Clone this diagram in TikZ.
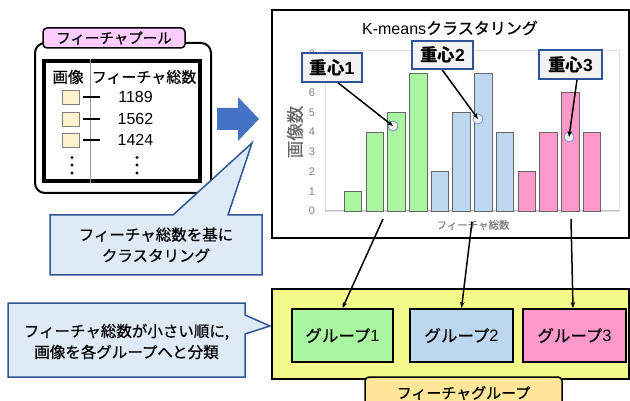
\documentclass[tikz,border=0pt]{standalone}
\usepackage{fontspec}
\setmainfont{Noto Sans CJK JP}[UprightFeatures={FakeBold=0.6}]
\setsansfont{Noto Sans CJK JP}
\newfontfamily\lat{Liberation Sans}
\usetikzlibrary{arrows.meta}
\definecolor{poolpink}{HTML}{FFCCFF}
\definecolor{imgyellow}{HTML}{FFF2CC}
\definecolor{arrowblue}{HTML}{4472C4}
\definecolor{callfill}{HTML}{DEEBF7}
\definecolor{calldraw}{HTML}{2F5597}
\definecolor{gG}{HTML}{AAF5A0}
\definecolor{gB}{HTML}{BDD7EE}
\definecolor{gP}{HTML}{FF99CC}
\definecolor{grpyellow}{HTML}{F4F98C}
\definecolor{lblorange}{HTML}{FFE699}
\definecolor{cboxfill}{HTML}{F2F2F2}
\definecolor{axisgray}{HTML}{7F7F7F}
\definecolor{mkblue}{HTML}{6F8FCC}
\tikzset{
  fs/.style={font=\fontsize{#1}{#1}\selectfont},
  bar/.style={draw=black!60, line width=0.8pt},
  grpbox/.style={draw=black, line width=2pt, minimum height=53pt, inner sep=0pt, fs=16.5},
  cbox/.style={draw=calldraw, fill=cboxfill, line width=2pt, minimum height=28.5pt, inner sep=0pt, font=\fontsize{17.5}{20}\selectfont\bfseries},
  cmark/.style={circle, draw=mkblue, fill=cboxfill, line width=0.8pt, minimum size=10pt, inner sep=0pt},
  ptr/.style={-{Stealth[length=6pt,width=4.5pt]}, line width=1.5pt, black},
  callout/.style={draw=calldraw, fill=callfill, line width=1.5pt, line join=miter},
  ticklbl/.style={text=axisgray, font=\fontsize{11}{11}\selectfont\lat},
  imgsq/.style={draw=black!50, fill=imgyellow, line width=0.8pt, minimum width=17pt, minimum height=14pt, inner sep=0pt},
}
\begin{document}
\begin{tikzpicture}[x=1pt,y=-1pt]
\useasboundingbox (0,0) rectangle (630,401);

% ---------- feature pool ----------
\node (pool) [draw, line width=2pt, rounded corners=10pt, minimum width=176pt, minimum height=150pt, inner sep=0pt] at (123,118) {};
\node (table) [draw, line width=4pt, minimum width=156pt, minimum height=120pt, inner sep=0pt] at (122,121) {};
\draw[black!40, line width=0.8pt] (table.north -| 90,0) -- (table.south -| 90,0);
\node (pooltitle) [draw, line width=1.5pt, fill=poolpink, rounded corners=4pt, minimum width=142pt, minimum height=20pt, inner sep=0pt, fs=14.5] at (114,38) {フィーチャプール};
\node (hImg) [fs=15.5] at (68,77) {画像};
\node (hNum) [fs=15] at (144,77) {フィーチャ総数};
\foreach \yy/\vv/\nm in {97/1189/a, 119/1562/b, 140/1424/c} {
  \node (sq\nm) [imgsq] at (70.5,\yy) {};
  \node (num\nm) [font=\fontsize{16}{16}\selectfont\lat] at (135.5,\yy) {\vv};
  \draw[line width=2pt] ([xshift=4pt]sq\nm.east) -- ++(17,0);
}
\foreach \xx in {72,137} {
  \foreach \yy in {157.5,165,173} \fill (\xx,\yy) circle (1.7pt);
}

% ---------- blue arrow ----------
\fill[arrowblue] (217,108) -- (238,108) -- (238,97) -- (259,119) -- (238,141) -- (238,130) -- (217,130) -- cycle;

% ---------- callout 1 ----------
\draw[callout] (50,215) -- (173,215) -- (252,143) -- (228,215) -- (262,215) -- (262,275) -- (50,275) -- cycle;
\node (call1) [align=center, font=\fontsize{15.5}{21}\selectfont] at (156,245) {フィーチャ総数を基に\\クラスタリング};

% ---------- callout 2 ----------
\draw[callout] (8,303) -- (245,303) -- (245,315) -- (270,326) -- (245,334) -- (245,377) -- (8,377) -- cycle;
\node (call2) [align=center, font=\fontsize{15.5}{21}\selectfont] at (126.5,341.5) {フィーチャ総数が小さい順に,\\画像を各グループへと分類};

% ---------- chart ----------
\node (chart) [draw, line width=2pt, minimum width=357pt, minimum height=228pt, inner sep=0pt] at (450.5,124) {};
\draw[black!12, line width=0.6pt] (325,50) rectangle (619,211);
\draw[black!25, line width=1pt] (325,211) -- (619,211);
\node (ctitle) [fs=16] at (450,28) {{\lat K-means}クラスタリング};
\foreach \k in {0,...,8} \node[ticklbl] at (312,{211-19.7*\k}) {\k};
\node (ylab) [rotate=90, text=black!60, fs=17.5] at (295,132) {画像数};
\node (xlab) [text=axisgray, font=\fontsize{10.5}{10.5}\selectfont] at (473,225) {フィーチャ総数};
\foreach \h [count=\i from 0] in {1,4,5,7}
  \draw[bar, fill=gG] ({344.25+21.72*\i},211) rectangle ++(17.5,{-19.7*\h});
\foreach \h [count=\i from 4] in {2,5,7,4}
  \draw[bar, fill=gB] ({344.25+21.72*\i},211) rectangle ++(17.5,{-19.7*\h});
\foreach \h [count=\i from 8] in {2,4,6,4}
  \draw[bar, fill=gP] ({344.25+21.72*\i},211) rectangle ++(17.5,{-19.7*\h});

\node (c1) [cmark] at (393,126) {};
\node (c2) [cmark] at (478,119) {};
\node (c3) [cmark] at (569,137) {};
\node (k1) [cbox, minimum width=60pt] at (332,67.5) {重心{\lat 1}};
\node (k2) [cbox, minimum width=61pt] at (442.5,55) {重心{\lat 2}};
\node (k3) [cbox, minimum width=63pt] at (570.5,64.5) {重心{\lat 3}};
\draw[ptr] ([xshift=6pt]k1.south) -- (c1.center);
\draw[ptr] (k2.south) -- (c2.center);
\draw[ptr] ([xshift=6.5pt]k3.south) -- (c3.center);

% ---------- groups ----------
\node (grparea) [draw, line width=1.5pt, fill=grpyellow, minimum width=357pt, minimum height=90pt, inner sep=0pt] at (450.5,334) {};
\node (grp1) [grpbox, fill=gG, minimum width=101pt] at (342.5,335.5) {グループ{\lat 1}};
\node (grp2) [grpbox, fill=gB, minimum width=103pt] at (461.5,335.5) {グループ{\lat 2}};
\node (grp3) [grpbox, fill=gP, minimum width=103pt] at (574.5,335.5) {グループ{\lat 3}};
\node (grplbl) [draw, line width=1.5pt, fill=lblorange, rounded corners=4pt, minimum width=197pt, minimum height=34pt, inner sep=0pt] at (463.5,394) {};
\node (grplbltxt) [fs=15] at (463.5,393) {フィーチャグループ};

\coordinate (s1) at (383,219);
\coordinate (s2) at (472,222);
\coordinate (s3) at (571,219);
\draw[ptr] (s1) -- (grp1.north);
\draw[ptr] (s2) -- (grp2.north);
\draw[ptr] (s3) -- ([xshift=-1.5pt]grp3.north);
\end{tikzpicture}
\end{document}
